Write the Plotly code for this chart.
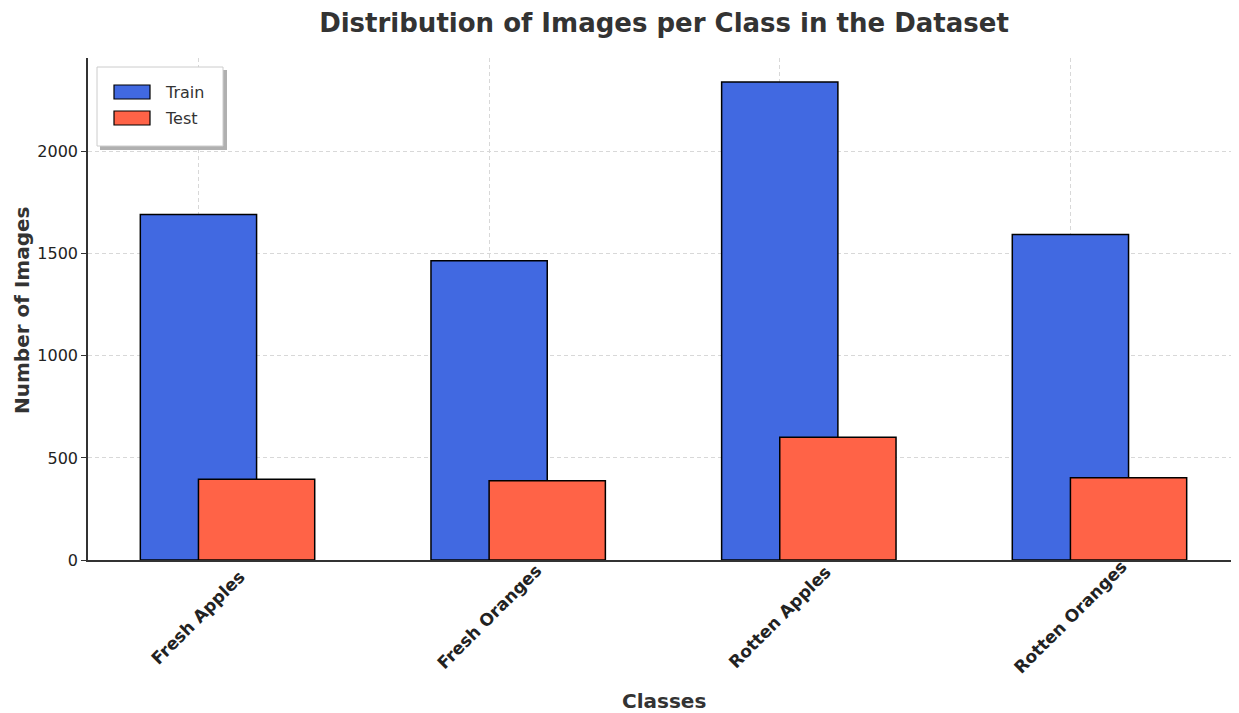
import plotly.graph_objects as go

categories = ["Fresh Apples", "Fresh Oranges", "Rotten Apples", "Rotten Oranges"]
train_counts = [1693, 1466, 2342, 1595]
test_counts = [395, 388, 601, 403]
y_ticks = [0, 500, 1000, 1500, 2000]
series_names = ["Train", "Test"]
series_colors = ["#4169E1", "#FF6347"]

# the page body adds an 8px offset; figure coordinates = screen pixels - 8
OFF = 8
W, H = 1239 - OFF, 713 - OFF
L, R, T = 88 - OFF, 0, 58 - OFF
B = H - (560 - OFF)
PW, PH = W - L - R, H - T - B


def px(x):
    return (x - OFF - L) / PW


def py(y):
    return (H - B - (y - OFF)) / PH


bar_w = 0.4
pos = list(range(len(categories)))
pos_test = [p + bar_w / 2 for p in pos]

fig = go.Figure()
fig.add_trace(go.Bar(x=pos, y=train_counts, width=bar_w, name=series_names[0], showlegend=False,
                     marker=dict(color=series_colors[0], line=dict(color="black", width=1.5))))
fig.add_trace(go.Bar(x=pos_test, y=test_counts, width=bar_w, name=series_names[1], showlegend=False,
                     marker=dict(color=series_colors[1], line=dict(color="black", width=1.5))))

ymax = max(train_counts) * 1.05
grid = dict(showgrid=True, gridcolor="#d8d8d8", griddash="4px,3px", gridwidth=1, zeroline=False)
fig.update_layout(
    width=W, height=H,
    barmode="overlay",
    plot_bgcolor="white", paper_bgcolor="white",
    font=dict(family="DejaVu Sans", color="#333333", size=16),
    margin=dict(l=L, r=R, t=T, b=B, autoexpand=False),
    title=dict(text="<b>Distribution of Images per Class in the Dataset</b>",
               x=(664 - OFF) / W, xanchor="center", y=1 - (23 - OFF) / H, yanchor="middle",
               font=dict(size=26, color="#333333")),
    xaxis=dict(range=[-0.38, 3.58], tickvals=pos, showticklabels=False, automargin=False,
               showline=True, linecolor="#333333", linewidth=1.5, ticks="", **grid),
    yaxis=dict(range=[0, ymax], tickvals=y_ticks, automargin=False,
               showline=True, linecolor="#333333", linewidth=1.5,
               ticks="outside", ticklen=5, tickcolor="#333333", tickwidth=1.2,
               tickfont=dict(size=16, color="#222222"), **grid),
    showlegend=False,
)

# rotated category labels, centred under each tick
for p, c in zip(pos, categories):
    fig.add_annotation(x=p, xref="x", y=py(617), yref="paper", text="<b>%s</b>" % c,
                       textangle=-45, showarrow=False, xanchor="center", yanchor="middle",
                       font=dict(size=17, color="#222222"))

# axis titles
fig.add_annotation(x=px(664), xref="paper", y=py(701), yref="paper", text="<b>Classes</b>",
                   showarrow=False, xanchor="center", yanchor="middle",
                   font=dict(size=20, color="#333333"))
fig.add_annotation(x=px(22), xref="paper", y=py(310), yref="paper", text="<b>Number of Images</b>",
                   textangle=-90, showarrow=False, xanchor="center", yanchor="middle",
                   font=dict(size=20, color="#333333"))

# legend (box with shadow, wide patches)
fig.add_shape(type="rect", xref="paper", yref="paper", x0=px(100), x1=px(227), y0=py(150), y1=py(70),
              fillcolor="#b0b0b0", line=dict(width=0), layer="above")
fig.add_shape(type="rect", xref="paper", yref="paper", x0=px(97), x1=px(223), y0=py(146), y1=py(67),
              fillcolor="white", line=dict(color="#cccccc", width=1), layer="above")
for i, (n, col) in enumerate(zip(series_names, series_colors)):
    yc = 92 + 26 * i
    fig.add_shape(type="rect", xref="paper", yref="paper", x0=px(114), x1=px(150),
                  y0=py(yc + 7), y1=py(yc - 7), fillcolor=col,
                  line=dict(color="black", width=1.2), layer="above")
    fig.add_annotation(x=px(163), xref="paper", y=py(yc), yref="paper", text=n, showarrow=False,
                       xanchor="left", yanchor="middle", font=dict(size=16, color="#333333"))

fig.write_html("out.html")
